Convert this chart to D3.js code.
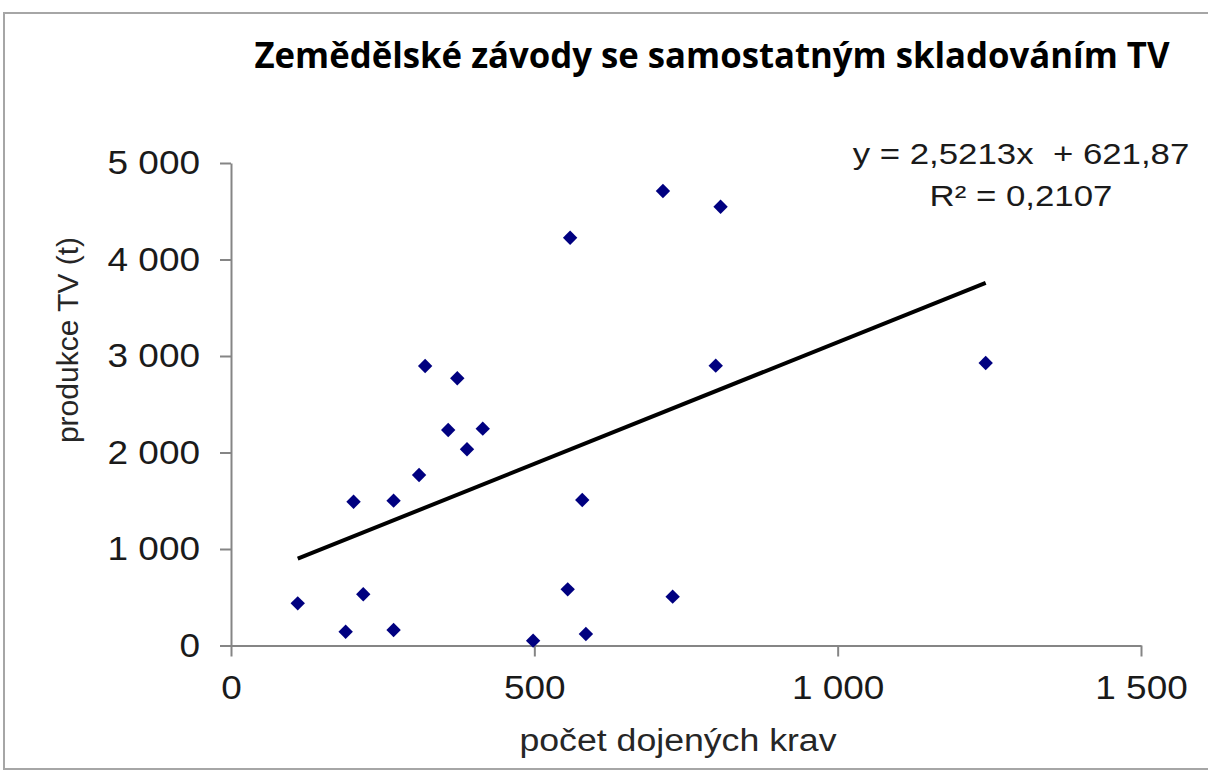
<!DOCTYPE html>
<html lang="cs">
<head>
    <meta charset="UTF-8">
    <title>Zemědělské závody se samostatným skladováním TV</title>
    <script src="https://d3js.org/d3.v7.min.js"></script>
    <style>
        body { margin: 0; background: #fff; }
        text { font-family: "Liberation Sans", Arial, sans-serif; fill: #1a1a1a; }
        .title { font-family: "Open Sans", "Noto Sans", sans-serif; font-weight: bold; font-size: 35px; fill: #000; }
        .axis path, .axis line { stroke: #858585; stroke-width: 2; }
        .axis text { font-size: 33px; fill: #1a1a1a; }
    </style>
</head>
<body>
    <div id="chart"></div>

    <script>
        // počet dojených krav / produkce TV (t)
        const cows = [110, 202, 268, 189, 218, 268, 310, 320, 373, 358, 415,
                      389, 498, 555, 559, 579, 585, 712, 728, 799, 807, 1244];
        const production = [437, 1490, 1501, 143, 531, 161, 1767, 2896, 2769, 2233, 2247,
                            2033, 50, 582, 4226, 1508, 119, 4710, 506, 2900, 4547, 2928];
        const xTicks = [0, 500, 1000, 1500];
        const yTicks = [0, 1000, 2000, 3000, 4000, 5000];
        // lineární trend z rovnice v grafu
        const slope = 2.5213, intercept = 621.87;
        const equationText = "y = 2,5213x  + 621,87";
        const r2Text = "R² = 0,2107";

        const data = cows.map((c, i) => ({ x: c, y: production[i] }));

        const W = 1208, H = 771;
        const svg = d3.select("#chart").append("svg")
            .attr("width", W)
            .attr("height", H);

        // rámeček grafu
        svg.append("rect")
            .attr("x", 4).attr("y", 13)
            .attr("width", 1230).attr("height", 756)
            .attr("fill", "none")
            .attr("stroke", "#a6a6a6")
            .attr("stroke-width", 2);

        const x = d3.scaleLinear().domain([0, 1500]).range([231, 1141]);
        const y = d3.scaleLinear().domain([0, 5000]).range([645.5, 163]);

        const cz = d3.formatLocale({ decimal: ",", thousands: " ", grouping: [3], currency: ["", " Kč"] });
        const fmt = cz.format(",d");

        svg.append("g")
            .attr("class", "axis")
            .attr("transform", `translate(${x(0)},0)`)
            .call(d3.axisLeft(y).tickValues(yTicks).tickFormat(fmt).tickSize(11).tickSizeOuter(0).tickPadding(20));

        svg.append("g")
            .attr("class", "axis")
            .attr("transform", `translate(0,${y(0)})`)
            .call(d3.axisBottom(x).tickValues(xTicks).tickFormat(fmt).tickSize(11).tickSizeOuter(0).tickPadding(19));

        // trendová čára
        const xMin = d3.min(cows), xMax = d3.max(cows);
        svg.append("line")
            .attr("x1", x(xMin)).attr("y1", y(slope * xMin + intercept))
            .attr("x2", x(xMax)).attr("y2", y(slope * xMax + intercept))
            .attr("stroke", "#000")
            .attr("stroke-width", 4);

        // body - kosočtverce
        const r = 7.2;
        svg.append("g")
            .selectAll("path")
            .data(data)
            .enter().append("path")
            .attr("d", `M0,${-r}L${r},0L0,${r}L${-r},0Z`)
            .attr("transform", d => `translate(${x(d.x)},${y(d.y)})`)
            .attr("fill", "#000080");

        svg.append("text")
            .attr("class", "title")
            .attr("x", 712).attr("y", 68)
            .attr("text-anchor", "middle")
            .attr("textLength", 915)
            .attr("lengthAdjust", "spacingAndGlyphs")
            .text("Zemědělské závody se samostatným skladováním TV");

        const eq = svg.append("g").attr("class", "stretch");
        eq.append("text")
            .attr("x", 1021).attr("y", 164)
            .attr("text-anchor", "middle")
            .style("font-size", "29px")
            .style("white-space", "pre")
            .text(equationText);
        eq.append("text")
            .attr("x", 1021).attr("y", 206)
            .attr("text-anchor", "middle")
            .style("font-size", "29px")
            .text(r2Text);

        svg.append("text")
            .attr("class", "xlabel")
            .attr("x", 678).attr("y", 751)
            .attr("text-anchor", "middle")
            .style("font-size", "31px")
            .style("fill", "#262626")
            .text("počet dojených krav");

        svg.append("text")
            .attr("transform", "translate(78,340) rotate(-90)")
            .attr("text-anchor", "middle")
            .style("font-size", "30px")
            .style("fill", "#262626")
            .text("produkce TV (t)");

        // obrázek je vodorovně roztažený, tak texty trochu natáhnout
        function stretch(sel, k) {
            sel.each(function() {
                const w = this.getComputedTextLength();
                this.setAttribute("textLength", w * k);
                this.setAttribute("lengthAdjust", "spacingAndGlyphs");
            });
        }
        stretch(svg.selectAll(".axis text"), 1.12);
        stretch(svg.selectAll(".stretch text"), 1.2);
        stretch(svg.selectAll(".xlabel"), 1.15);
    </script>
</body>
</html>
